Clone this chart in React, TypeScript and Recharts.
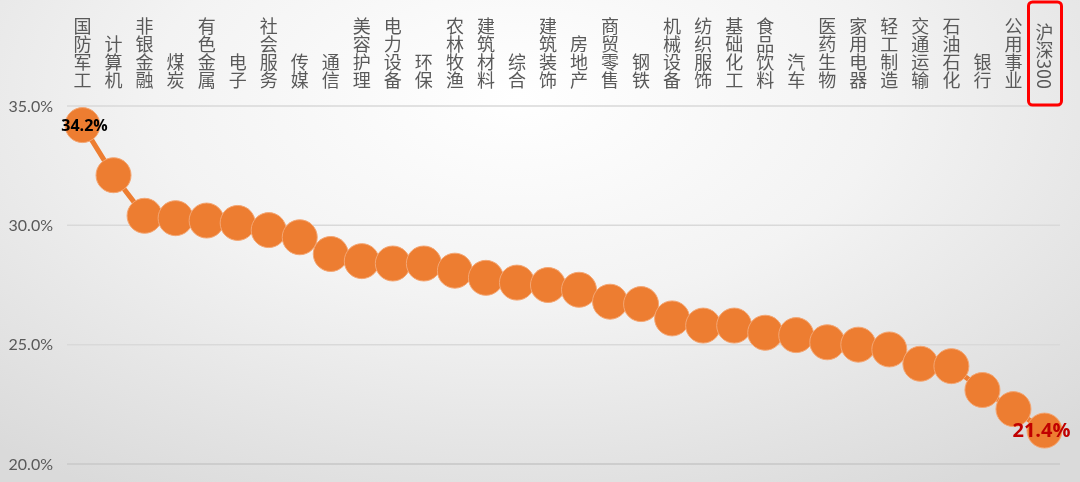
import { LineChart, Line, XAxis, YAxis, CartesianGrid, LabelList, ReferenceLine } from "recharts";

const industries = [
  "国防军工", "计算机", "非银金融", "煤炭", "有色金属", "电子", "社会服务", "传媒",
  "通信", "美容护理", "电力设备", "环保", "农林牧渔", "建筑材料", "综合", "建筑装饰",
  "房地产", "商贸零售", "钢铁", "机械设备", "纺织服饰", "基础化工", "食品饮料", "汽车",
  "医药生物", "家用电器", "轻工制造", "交通运输", "石油石化", "银行", "公用事业", "沪深300",
];

const growth = [
  34.2, 32.1, 30.4, 30.3, 30.2, 30.1, 29.8, 29.5,
  28.8, 28.5, 28.4, 28.4, 28.1, 27.8, 27.6, 27.5,
  27.3, 26.8, 26.7, 26.1, 25.8, 25.8, 25.5, 25.4,
  25.1, 25.0, 24.8, 24.2, 24.1, 23.1, 22.3, 21.4,
];

const yTicks = [20, 25, 30, 35];

const data = industries.map((name, i) => ({ name, value: growth[i] }));

const ORANGE = "#ED7D31";
const GREY_TEXT = "#595959";
const CJK = '"Noto Sans CJK SC", "Noto Sans", sans-serif';

function CategoryTick(props: any) {
  const { x, payload } = props;
  const isIndex = payload.value === "沪深300";
  const bottom = 89;
  return (
    <g>
      {isIndex && (
        <rect
          x={x - 16}
          y={2}
          width={33}
          height={103}
          rx={4}
          fill="none"
          stroke="#FF0000"
          strokeWidth={3}
        />
      )}
      <text
        x={x}
        y={bottom}
        textAnchor="end"
        fill={GREY_TEXT}
        fontSize={18}
        fontFamily={CJK}
        style={{ writingMode: "vertical-rl" as any }}
      >
        {payload.value}
      </text>
    </g>
  );
}

function EndLabel(props: any) {
  const { x, y, index, value } = props;
  if (index !== 0 && index !== growth.length - 1) return null;
  const last = index === growth.length - 1;
  return (
    <text
      x={last ? x - 3 : x + 2}
      y={y + 6}
      textAnchor="middle"
      fill={last ? "#C00000" : "#000000"}
      fontSize={last ? 20 : 16}
      fontWeight="bold"
      fontFamily='"Open Sans", "Noto Sans", sans-serif'
    >
      {value.toFixed(1)}%
    </text>
  );
}

export default function App() {
  return (
    <div
      style={{
        position: "fixed",
        left: 0,
        top: 0,
        width: 1080,
        height: 482,
        background:
          "radial-gradient(ellipse 75% 95% at 48% 20%, #FFFFFF 0%, #F3F3F3 45%, #DADADA 100%)",
      }}
    >
      <LineChart
        width={1080}
        height={482}
        data={data}
        margin={{ top: 0, right: 20, bottom: 18, left: 0 }}
      >
        <CartesianGrid vertical={false} stroke="#D9D9D9" strokeWidth={1.5} />
        <ReferenceLine y={20} stroke="#C8C8C8" strokeWidth={1.5} />
        <XAxis
          dataKey="name"
          orientation="top"
          height={106}
          interval={0}
          axisLine={false}
          tickLine={false}
          padding={{ left: 15.5, right: 15.5 }}
          tick={<CategoryTick />}
        />
        <YAxis
          domain={[20, 35]}
          ticks={yTicks}
          width={67}
          axisLine={false}
          tickLine={false}
          tickMargin={8}
          tickFormatter={(v: number) => v.toFixed(1) + "%"}
          tick={{ fill: GREY_TEXT, fontSize: 16, fontFamily: "Lato, sans-serif" }}
        />
        <Line
          type="linear"
          dataKey="value"
          stroke={ORANGE}
          strokeWidth={5}
          dot={{ r: 17.5, fill: ORANGE, stroke: "#F4A673", strokeWidth: 1 }}
          activeDot={false}
          isAnimationActive={false}
        >
          <LabelList dataKey="value" content={<EndLabel />} />
        </Line>
      </LineChart>
    </div>
  );
}
